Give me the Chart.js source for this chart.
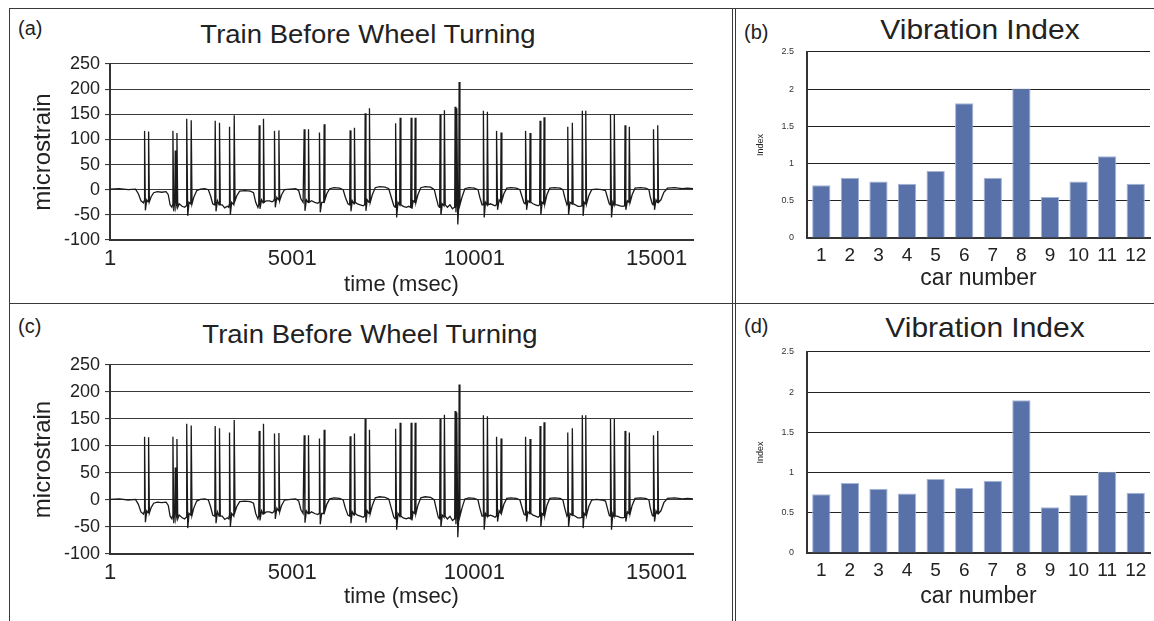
<!DOCTYPE html>
<html>
<head>
<meta charset="utf-8">
<script src="https://cdn.jsdelivr.net/npm/chart.js@4.4.1/dist/chart.umd.min.js"></script>
<style>
  body { margin: 0; background: #fff; }
  #fig { position: relative; width: 1154px; height: 621px; overflow: hidden; font-family: "Liberation Sans", Arial, sans-serif; color: #222; }
  canvas { position: absolute; }
  .ln { position: absolute; background: #3a3a3a; }
  .txt { position: absolute; line-height: 1; white-space: nowrap; }
  .ttl { position: absolute; line-height: 1; white-space: nowrap; text-align: center; }
</style>
</head>
<body>
<div id="fig">
  <div class="ln" style="left:9px;top:8px;width:1145px;height:1.3px"></div>
  <div class="ln" style="left:9px;top:303px;width:1145px;height:1.3px"></div>
  <div class="ln" style="left:9px;top:8px;width:1.3px;height:613px"></div>
  <div class="ln" style="left:732px;top:8px;width:1.2px;height:613px"></div>
  <div class="ln" style="left:735px;top:8px;width:1.2px;height:613px"></div>

  <div class="txt" style="left:18px;top:18px;font-size:20px">(a)</div>
  <div class="txt" style="left:744px;top:22px;font-size:20px">(b)</div>
  <div class="txt" style="left:18px;top:316px;font-size:20px">(c)</div>
  <div class="txt" style="left:744px;top:316px;font-size:20px">(d)</div>

  <div class="ttl" style="left:118px;width:500px;top:22px;font-size:25px;transform:scaleX(1.1)">Train Before Wheel Turning</div>
  <div class="ttl" style="left:120px;width:500px;top:322px;font-size:25px;transform:scaleX(1.1)">Train Before Wheel Turning</div>
  <div class="ttl" style="left:830px;width:300px;top:16px;font-size:28px;transform:scaleX(1.07)">Vibration Index</div>
  <div class="ttl" style="left:835px;width:300px;top:314px;font-size:28px;transform:scaleX(1.07)">Vibration Index</div>

  <canvas id="chartA" width="722" height="293" style="left:10px;top:9px"></canvas>
  <canvas id="chartB" width="417" height="293" style="left:737px;top:9px"></canvas>
  <canvas id="chartC" width="722" height="317" style="left:10px;top:304px"></canvas>
  <canvas id="chartD" width="417" height="317" style="left:737px;top:304px"></canvas>
</div>
<script>
Chart.defaults.font.family = '"Liberation Sans", Arial, sans-serif';
Chart.defaults.color = '#222';

// strain trace (a): [time ms, microstrain]
const traceA = [
  [1,1],[250,2],[500,0],[700,1],[780,-8],[850,-22],[920,-26],
  [938,-22],[950,117],[972,-41],[1010,-20],[1048,-24],[1060,116],[1082,-24],[1130,-14],
  [1200,-6],[1300,-4],[1420,-5],[1540,-4],[1600,-10],[1650,-30],[1700,-35],
  [1716,-30],[1728,117],[1750,-43],[1780,-20],[1791,78],[1810,-35],[1826,-30],[1838,113],[1860,-35],[1900,-28],
  [1980,-33],[2050,-35],[2090,-32],
  [2100,-30],[2112,141],[2134,-52],[2170,-25],[2218,-28],[2230,138],[2252,-28],[2300,-15],
  [2380,-2],[2480,1],[2600,2],[2700,0],[2760,-12],[2820,-28],[2865,-30],
  [2876,-28],[2888,137],[2910,-43],[2950,-22],[2994,-30],[3006,133],[3028,-30],[3080,-30],
  [3150,-36],[3220,-33],[3260,-35],
  [3269,-30],[3281,125],[3303,-50],[3340,-25],[3398,-30],[3410,148],[3432,-22],[3480,-12],
  [3560,-3],[3700,-2],[3850,-3],[3940,-6],[4000,-25],[4060,-35],
  [4083,-30],[4095,128],[4117,-38],[4160,-20],[4201,-26],[4213,141],[4235,-25],[4290,-22],
  [4380,-22],[4450,-24],[4495,-22],
  [4503,-20],[4515,117],[4537,-35],[4580,-15],[4624,-20],[4636,118],[4658,-22],[4710,-10],
  [4790,0],[4950,1],[5100,2],[5180,-2],[5240,-18],[5300,-25],
  [5318,-25],[5330,120],[5352,-42],[5390,-20],[5436,-25],[5448,120],[5470,-25],[5530,-22],
  [5620,-25],[5700,-27],
  [5737,-25],[5749,114],[5771,-45],[5810,-25],[5866,-25],[5878,130],[5900,-20],[5950,-8],
  [6030,2],[6150,4],[6300,3],[6400,0],[6460,-15],[6530,-28],[6575,-30],
  [6579,-28],[6591,118],[6613,-43],[6650,-22],[6697,-28],[6709,123],[6731,-25],[6790,-28],
  [6870,-30],[6950,-32],[6985,-30],
  [6991,-28],[7003,152],[7025,-42],[7060,-20],[7109,-25],[7121,162],[7143,-25],[7200,-10],
  [7280,4],[7400,6],[7550,5],[7650,2],[7720,-15],[7790,-32],[7830,-35],
  [7833,-33],[7845,132],[7867,-55],[7905,-25],[7951,-30],[7963,143],[7985,-30],[8050,-33],
  [8130,-35],[8200,-33],[8245,-35],
  [8253,-32],[8265,143],[8287,-38],[8320,-22],[8363,-25],[8375,143],[8397,-25],[8450,-10],
  [8530,4],[8650,6],[8800,5],[8900,0],[8950,-15],[9010,-32],[9042,-35],
  [9048,-33],[9060,150],[9082,-50],[9120,-28],[9166,-32],[9178,158],[9200,-30],[9260,-35],
  [9330,-30],[9400,-38],[9452,-35],
  [9460,-33],[9472,165],[9494,-45],[9506,-30],[9518,162],[9545,-69],[9570,-35],[9582,214],[9604,-30],[9660,-15],
  [9740,2],[9850,4],[10000,3],[10100,0],[10150,-15],[10210,-30],[10232,-30],
  [10238,-30],[10248,157],[10270,-55],[10305,-25],[10346,-30],[10358,155],[10380,-30],[10440,-28],
  [10510,-30],[10570,-32],[10598,-30],
  [10603,-28],[10615,117],[10637,-40],[10680,-20],[10721,-24],[10733,114],[10755,-22],[10810,-8],
  [10890,3],[11000,4],[11150,3],[11250,0],[11300,-12],[11360,-26],[11393,-28],
  [11399,-26],[11411,117],[11433,-40],[11470,-22],[11517,-25],[11529,113],[11551,-25],[11610,-28],
  [11680,-30],[11750,-32],[11786,-30],
  [11791,-28],[11803,137],[11825,-50],[11860,-25],[11901,-28],[11913,144],[11935,-28],[11990,-10],
  [12070,3],[12200,4],[12350,3],[12430,0],[12480,-15],[12540,-30],
  [12551,-28],[12563,125],[12585,-50],[12625,-25],[12677,-28],[12689,133],[12711,-28],[12770,-30],
  [12840,-33],[12910,-33],[12945,-32],
  [12951,-30],[12963,157],[12985,-52],[13015,-25],[13045,-28],[13057,157],[13079,-28],[13140,-12],
  [13220,0],[13350,1],[13500,0],[13600,-2],[13650,-15],[13700,-28],[13725,-30],
  [13730,-28],[13742,150],[13764,-55],[13800,-25],[13829,-30],[13841,150],[13863,-30],[13920,-30],
  [14000,-32],[14070,-33],[14115,-32],
  [14123,-30],[14135,128],[14157,-40],[14200,-22],[14241,-25],[14253,125],[14275,-25],[14330,-10],
  [14410,3],[14550,4],[14700,3],[14790,0],[14830,-15],[14880,-28],[14905,-30],
  [14910,-28],[14922,120],[14944,-40],[14985,-20],[15020,-25],[15032,128],[15054,-25],[15120,-20],
  [15200,-5],[15300,3],[15500,4],[15700,2],[15850,3],[16000,2]
];

// trace (c) is the same run; only these peaks read differently
const peaksC = { 1791: 60, 4515: 123, 4636: 124, 7003: 150, 7121: 130 };
const traceC = traceA.map(([t, v]) => [t, peaksC[t] !== undefined ? peaksC[t] : v]);

const timeTicks = [1, 5001, 10001, 15001];

const cars = ['1','2','3','4','5','6','7','8','9','10','11','12'];
const indexB = [0.71, 0.81, 0.76, 0.73, 0.90, 1.81, 0.81, 2.01, 0.55, 0.76, 1.10, 0.73];
const indexD = [0.73, 0.87, 0.80, 0.74, 0.92, 0.81, 0.90, 1.90, 0.57, 0.72, 1.01, 0.75];

function lineChart(id, trace, g) {
  return new Chart(document.getElementById(id), {
    type: 'line',
    data: {
      datasets: [{
        data: trace.map(([t, v]) => ({ x: t, y: v })),
        borderColor: '#1a1a1a',
        borderWidth: 1.3,
        pointRadius: 0,
        tension: 0
      }]
    },
    options: {
      responsive: false,
      animation: false,
      layout: { padding: { top: g.top, right: 39, left: 0, bottom: 0 } },
      plugins: { legend: { display: false }, tooltip: { enabled: false } },
      scales: {
        x: {
          type: 'linear', min: 1, max: 16000,
          afterBuildTicks: s => { s.ticks = timeTicks.map(v => ({ value: v })); },
          afterFit: s => { s.height = g.xh; },
          grid: { display: false, drawTicks: false },
          border: { color: '#333', width: 2 },
          ticks: { font: { size: 22 }, padding: g.xtp, maxRotation: 0, autoSkip: false, callback: v => String(v) },
          title: { display: true, text: 'time (msec)', font: { size: 22 }, padding: { top: 0, bottom: g.xtb } }
        },
        y: {
          min: -100, max: 250,
          ticks: { stepSize: 50, font: { size: 18 }, padding: 5, callback: v => String(v) },
          afterFit: s => { s.width = 100; },
          grid: { color: '#3a3a3a', lineWidth: 1.1, tickLength: 5 },
          border: { color: '#333', width: 2 },
          title: { display: true, text: 'microstrain', font: { size: 24 }, padding: { top: 19, bottom: 0 } }
        }
      }
    }
  });
}

function barChart(id, values, g) {
  return new Chart(document.getElementById(id), {
    type: 'bar',
    data: {
      labels: cars,
      datasets: [{
        data: values,
        backgroundColor: '#5872a9',
        borderColor: '#a6b5d6',
        borderWidth: 1,
        barPercentage: 0.64,
        categoryPercentage: 1
      }]
    },
    options: {
      responsive: false,
      animation: false,
      layout: { padding: { top: g.top, right: 4, left: 0, bottom: 0 } },
      plugins: { legend: { display: false }, tooltip: { enabled: false } },
      scales: {
        x: {
          afterFit: s => { s.height = g.xh; },
          grid: { display: false, drawTicks: false },
          border: { color: '#333', width: 2 },
          ticks: { font: { size: 19 }, padding: 6 },
          title: { display: true, text: 'car number', font: { size: 23 }, padding: { top: 0, bottom: g.xtb } }
        },
        y: {
          min: 0, max: 2.5,
          ticks: { stepSize: 0.5, font: { size: 9 }, color: '#333', padding: 13, callback: v => String(parseFloat(v.toFixed(2))) },
          afterFit: s => { s.width = 70; },
          grid: { color: '#222', lineWidth: 1.1, drawTicks: false },
          border: { color: '#333', width: 2 },
          title: { display: true, text: 'Index', font: { size: 9 }, padding: { top: 18, bottom: 0 } }
        }
      }
    }
  });
}

lineChart('chartA', traceA, { top: 55, xh: 62, xtp: 6, xtb: 4 });
lineChart('chartC', traceC, { top: 61, xh: 67, xtp: 6, xtb: 11 });
barChart('chartB', indexB, { top: 43, xh: 64, xtb: 10 });
barChart('chartD', indexD, { top: 48, xh: 68, xtb: 11 });
</script>
</body>
</html>
